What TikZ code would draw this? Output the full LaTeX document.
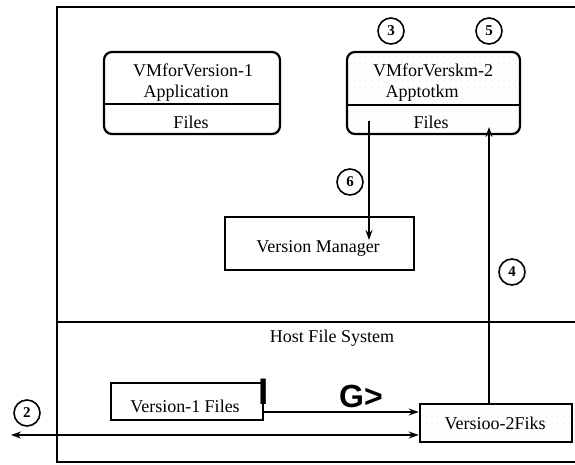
\documentclass[tikz,border=0pt]{standalone}
\usepackage{fontspec}
\setmainfont{Liberation Serif}
\newfontfamily\gsans{Liberation Sans}
\usetikzlibrary{arrows.meta,patterns.meta}
\begin{document}
\begin{tikzpicture}[x=1pt,y=-1pt,
  frame/.style={line width=1.8pt},
  box/.style={draw, line width=2.2pt, inner sep=0pt},
  lbl/.style={font=\fontsize{18}{20}\selectfont, inner sep=0pt},
  num/.style={draw, circle, line width=1.6pt, minimum size=26pt, inner sep=0pt, font=\fontsize{15}{15}\selectfont\bfseries},
  arr/.style={line width=1.8pt, -{Stealth[length=10pt,width=7pt]}},
  dbl/.style={line width=1.8pt, {Stealth[length=10pt,width=7pt]}-{Stealth[length=10pt,width=7pt]}},
  stip/.style={pattern={Dots[distance=6pt,radius=0.45pt]}, pattern color=black!45},
  big/.style={font=\gsans\bfseries\fontsize{32}{32}\selectfont, inner sep=0pt}
]
\useasboundingbox (0,0) rectangle (575,465);
% frame
\draw[frame] (575,7) -- (57,7) -- (57,462) -- (575,462);
\draw[frame] (57,322) -- (575,322);
% application boxes
\node[box, rounded corners=8pt, minimum width=176pt, minimum height=82pt] (app1) at (192,93) {};
\draw[box] (104,104) -- (280,104);
\node[lbl] (t1a) at (193,70) {VMforVersion-1};
\node[lbl] (t1b) at (186,93) {Application};
\node[lbl] (t1c) at (191,122) {Files};
\node[box, stip, rounded corners=8pt, minimum width=173pt, minimum height=82pt] (app2) at (433.5,93) {};
\draw[box] (347,105) -- (520,105);
\node[lbl] (t2a) at (433,70) {VMforVerskm-2};
\node[lbl] (t2b) at (422,93) {Apptotkm};
\node[lbl] (t2c) at (431,122) {Files};
% version manager
\node[box, minimum width=189pt, minimum height=53pt] (vm) at (319.5,243.5) {};
\node[lbl] (vmt) at (318,248) {Version Manager};
% host file system
\node[lbl] (hfs) at (332,338) {Host File System};
\node[box, line width=2pt, minimum width=152pt, minimum height=37pt] (v1) at (187,401.5) {};
\node[lbl] (v1t) at (185,406) {Version-1 Files};
\node[box, stip, line width=2.6pt, minimum width=152pt, minimum height=38pt] (v2) at (496,423) {};
\node[lbl] (v2t) at (495,423) {Versioo-2Fiks};
\node[big, font=\gsans\bfseries\fontsize{37}{37}\selectfont] (ibar) at (264,392) {I};
\node[big] (gg) at (361,396) {G>};
% circled numbers
\node[num] (c3) at (391,31) {3};
\node[num] (c5) at (489,31) {5};
\node[num] (c6) at (350,182) {6};
\node[num] (c4) at (512,272) {4};
\node[num] (c2) at (27,413) {2};
% connectors
\coordinate (a6s) at (369,121);
\coordinate (a6e) at (369,240);
\draw[arr] (a6s) -- (a6e);
\coordinate (a4e) at (489,127);
\draw[arr] (v2.north -| a4e) -- (a4e);
\coordinate (v1o) at (264,412);
\draw[arr] (v1o) -- (v2.west |- v1o);
\coordinate (ext) at (11,435);
\draw[dbl] (ext) -- (v2.west |- ext);
\end{tikzpicture}
\end{document}
